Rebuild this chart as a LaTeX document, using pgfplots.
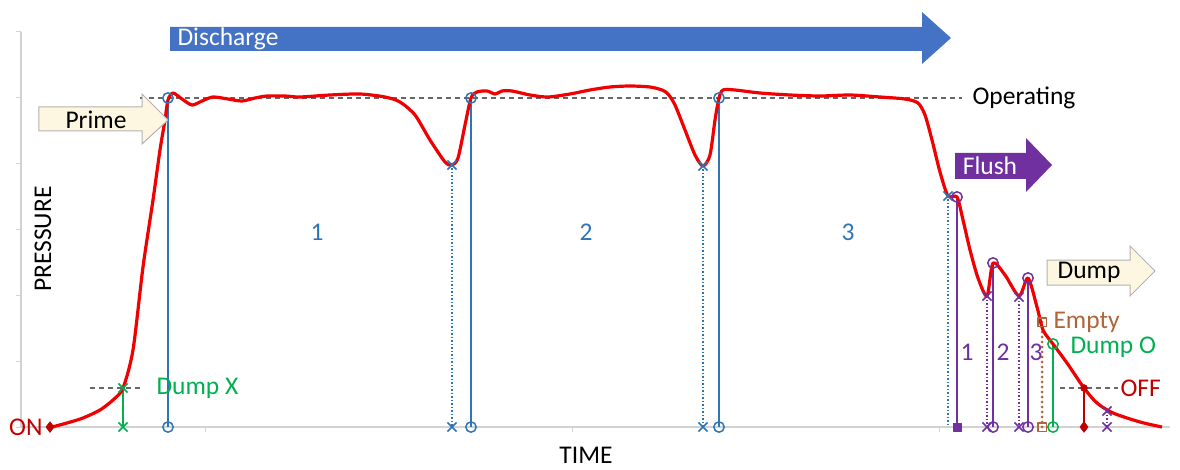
\documentclass[border=0pt]{standalone}
\usepackage{fontspec}
\setmainfont{Carlito}
\usepackage{pgfplots}
\pgfplotsset{compat=1.18}
\definecolor{cblue}{HTML}{2E75B6}
\definecolor{dblue}{HTML}{4472C4}
\definecolor{cpurple}{HTML}{7030A0}
\definecolor{cgreen}{HTML}{00B050}
\definecolor{cbrown}{HTML}{B0643A}
\definecolor{cdred}{HTML}{C00000}
\definecolor{cream}{HTML}{FDF6E1}
\definecolor{cred}{HTML}{F00000}
\newcommand{\bigf}{\fontsize{25.5}{29}\selectfont}
\begin{document}
\begin{tikzpicture}
\begin{axis}[
  x=1pt, y=1pt, xmin=21, xmax=1170, ymin=0, ymax=395,
  axis x line*=bottom, axis y line*=left,
  axis line style={draw=gray!35, line width=1.5pt},
  xtick={205,572,939}, ytick={0,65.8,131.7,197.5,263.3,329.2,395},
  xticklabels={}, yticklabels={},
  tick align=outside, major tick length=5pt,
  tick style={draw=gray!35, line width=1pt},
  clip=false,
  every axis plot/.append style={line join=round},
  vsolid/.style={line width=1.8pt},
  vdot/.style={line width=1.5pt, dash pattern=on 1.5pt off 2pt},
]
\coordinate (bl) at (axis cs:0,-42);
\coordinate (tr) at (axis cs:1180,427);

% dashed reference lines
\addplot[gray!80!black, line width=1.4pt, dash pattern=on 5pt off 4pt] coordinates {(140,329) (962,329)};
\addplot[gray!80!black, line width=1.4pt, dash pattern=on 5pt off 4pt] coordinates {(90,39) (142,39)};
\addplot[gray!80!black, line width=1.4pt, dash pattern=on 5pt off 4pt] coordinates {(1060,39) (1118,39)};

% vertical lines
\addplot[cgreen, vsolid] coordinates {(123,39) (123,0)};
\addplot[cblue, vsolid] coordinates {(168,329) (168,0)};
\addplot[cblue, vdot] coordinates {(452,262) (452,0)};
\addplot[cblue, vsolid] coordinates {(471,329) (471,0)};
\addplot[cblue, vdot] coordinates {(703,261) (703,0)};
\addplot[cblue, vsolid] coordinates {(719,329) (719,0)};
\addplot[cblue, vdot] coordinates {(948,231) (948,0)};
\addplot[cpurple, vsolid] coordinates {(957,230) (957,0)};
\addplot[cpurple, vdot] coordinates {(987,131) (987,0)};
\addplot[cpurple, vsolid] coordinates {(993,164) (993,0)};
\addplot[cpurple, vdot] coordinates {(1019,130) (1019,0)};
\addplot[cpurple, vsolid] coordinates {(1028,149) (1028,0)};
\addplot[cbrown, line width=3pt, line cap=round, dash pattern=on 0pt off 5pt] coordinates {(1042,105) (1042,0)};
\addplot[cgreen, vsolid] coordinates {(1053,83) (1053,0)};
\addplot[cdred, vsolid] coordinates {(1084,39) (1084,0)};
\addplot[cpurple, vdot] coordinates {(1107,16) (1107,0)};

% pressure curve
\addplot[cred, line width=3.2pt, smooth, tension=0.45] coordinates {
(52,0) (67,4) (83,9) (100,17) (113,27) (123,39) (133,77) (143,160) (153,227)
(160,277) (165,307) (168,327) (173,334) (182,328) (192,322) (202,326) (213,330)
(228,328) (242,326) (255,329) (267,331) (285,331) (300,330) (330,332) (360,333)
(385,330) (400,325) (415,312) (430,287) (445,265) (452,262) (458,269) (465,302)
(471,329) (477,335) (487,336) (495,333) (502,336) (512,336) (530,332) (548,330)
(570,333) (590,337) (610,340) (630,341) (650,340) (662,337) (668,333) (675,322)
(685,297) (695,272) (703,261) (710,272) (715,307) (719,329) (723,337) (735,337)
(760,334) (790,332) (820,331) (850,332) (880,330) (905,328) (918,324) (925,312)
(932,287) (940,255) (948,231) (957,230) (963,207) (970,177) (978,149) (987,131)
(993,164) (1005,152) (1019,131) (1028,149) (1037,120) (1043,97) (1053,83)
(1067,64) (1084,39) (1097,24) (1113,14) (1140,5) (1162,0)};

% markers
\addplot[only marks, mark=x, mark size=6.5, cgreen, line width=1.5pt] coordinates {(123,39) (123,0)};
\addplot[only marks, mark=o, mark size=5.2, cblue, line width=1.5pt] coordinates {(168,329) (168,0) (471,329) (471,0) (719,329) (719,0)};
\addplot[only marks, mark=x, mark size=6.5, cblue, line width=1.5pt] coordinates {(452,262) (452,0) (703,261) (703,0) (948,231)};
\addplot[only marks, mark=o, mark size=5.2, cpurple, line width=1.5pt] coordinates {(957,230) (993,164) (993,0) (1028,149) (1028,0)};
\addplot[only marks, mark=x, mark size=6.5, cpurple, line width=1.5pt] coordinates {(987,131) (987,0) (1019,130) (1019,0) (1107,16) (1107,0)};
\addplot[only marks, mark=square*, mark size=4, cpurple] coordinates {(957,0)};
\addplot[only marks, mark=square, mark size=4.2, cbrown, line width=1.4pt] coordinates {(1042,105) (1042,0)};
\addplot[only marks, mark=o, mark size=5.2, cgreen, line width=1.5pt] coordinates {(1053,83) (1053,0)};
\addplot[only marks, mark=diamond*, mark size=5.5, cdred] coordinates {(1084,0) (50,0)};
\addplot[only marks, mark=*, mark size=3.5, cdred] coordinates {(1084,39)};

% arrows
\fill[dblue] (axis cs:170,400) -- (axis cs:922,400) -- (axis cs:922,415) -- (axis cs:951,389)
  -- (axis cs:922,363) -- (axis cs:922,376) -- (axis cs:170,376) -- cycle;
\node[anchor=west, white, font=\bigf] at (axis cs:174,388) {Discharge};

\filldraw[fill=cream, draw=gray!60, line width=1pt] (axis cs:39,320) -- (axis cs:142,320) -- (axis cs:142,333)
  -- (axis cs:168,307) -- (axis cs:142,283) -- (axis cs:142,296) -- (axis cs:39,296) -- cycle;
\node[font=\bigf] at (axis cs:96,307) {Prime};

\fill[cpurple] (axis cs:955,274) -- (axis cs:1026,274) -- (axis cs:1026,289) -- (axis cs:1052,262)
  -- (axis cs:1026,235) -- (axis cs:1026,248) -- (axis cs:955,248) -- cycle;
\node[white, font=\bigf] at (axis cs:990,261) {Flush};

\filldraw[fill=cream, draw=gray!60, line width=1pt] (axis cs:1047,167) -- (axis cs:1130,167) -- (axis cs:1130,181)
  -- (axis cs:1155,156) -- (axis cs:1130,131) -- (axis cs:1130,142) -- (axis cs:1047,142) -- cycle;
\node[font=\bigf] at (axis cs:1089,155) {Dump};

% labels
\node[anchor=west, font=\bigf] at (axis cs:969,329) {Operating};
\node[anchor=west, cgreen, font=\bigf] at (axis cs:153,39) {Dump X};
\node[anchor=east, cdred, font=\bigf] at (axis cs:46,0) {ON};
\node[anchor=west, cdred, font=\bigf] at (axis cs:1117,39) {OFF};
\node[anchor=west, cbrown, font=\bigf] at (axis cs:1050,105) {Empty};
\node[anchor=west, cgreen, font=\bigf] at (axis cs:1067,80) {Dump O};
\node[cblue, font=\bigf] at (axis cs:317,195) {1};
\node[cblue, font=\bigf] at (axis cs:586,195) {2};
\node[cblue, font=\bigf] at (axis cs:848,195) {3};
\node[cpurple, font=\bigf] at (axis cs:967,75) {1};
\node[cpurple, font=\bigf] at (axis cs:1003,75) {2};
\node[cpurple, font=\bigf] at (axis cs:1036,75) {3};
\node[rotate=90, font=\bigf] at (axis cs:43,188) {PRESSURE};
\node[font=\bigf] at (axis cs:586,-28) {TIME};
\end{axis}
\pgfresetboundingbox
\useasboundingbox (bl) rectangle (tr);
\end{tikzpicture}
\end{document}
